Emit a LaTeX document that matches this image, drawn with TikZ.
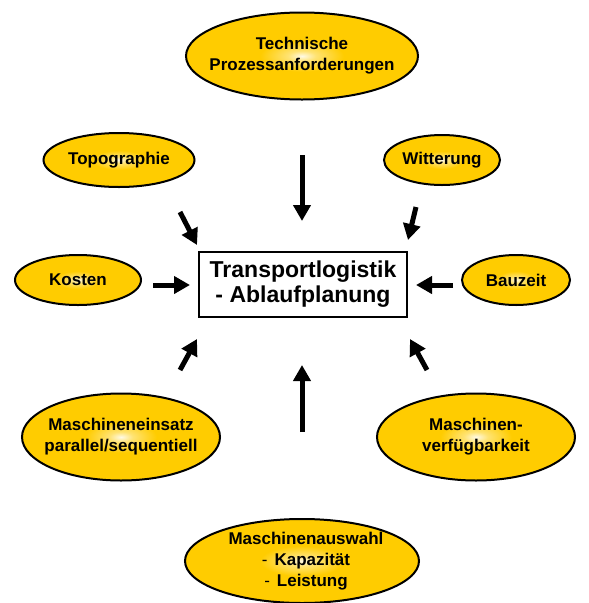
\documentclass[tikz,border=0pt]{standalone}
\usepackage{fontspec}
\setmainfont{Liberation Sans}
\usetikzlibrary{shapes.geometric,arrows.meta}
\definecolor{gold}{RGB}{255,204,0}
\pgfdeclareradialshading{glow}{\pgfpoint{0bp}{0bp}}{%
  color(0bp)=(white!90!gold); color(3bp)=(white!45!gold); color(9bp)=(gold); color(50bp)=(gold)}
\tikzset{
  oval/.style={ellipse, draw=black, line width=2pt, shading=glow, inner sep=0pt},
  ovaltext/.style={inner sep=0pt, align=center, font=\fontsize{17}{21}\selectfont\bfseries},
  mainbox/.style={draw=black, line width=2.5pt, fill=white, inner sep=0pt,
    minimum width=208pt, minimum height=65pt, align=center,
    font=\fontsize{23}{25}\selectfont\bfseries},
  bigarrow/.style={line width=5pt, -{Triangle[width=17pt,length=16pt]}}
}
\begin{document}
\begin{tikzpicture}[x=1pt,y=-1pt]
\useasboundingbox (0,0) rectangle (589,603);
\node[mainbox] (box) at (303,284.5) {Transportlogistik\\- Ablaufplanung};
\node[oval, minimum width=232pt, minimum height=87pt] (tech) at (302,56) {};
\node[ovaltext] (techT) at (tech) {Technische\\Prozessanforderungen};
\node[oval, minimum width=151pt, minimum height=54pt] (topo) at (119,160) {};
\node[ovaltext] (topoT) at (topo) {Topographie};
\node[oval, minimum width=116pt, minimum height=50pt] (witt) at (442,160) {};
\node[ovaltext] (wittT) at (witt) {Witterung};
\node[oval, minimum width=126pt, minimum height=50pt] (kost) at (78,280) {};
\node[ovaltext] (kostT) at (kost) {Kosten};
\node[oval, minimum width=108pt, minimum height=50pt] (bau) at (516,280) {};
\node[ovaltext] (bauT) at (bau) {Bauzeit};
\node[oval, minimum width=198pt, minimum height=87pt] (einsatz) at (121,437) {};
\node[ovaltext] (einsatzT) at (einsatz) {Maschineneinsatz\\parallel/sequentiell};
\node[oval, minimum width=198pt, minimum height=87pt] (verf) at (476,437) {};
\node[ovaltext] (verfT) at (verf) {Maschinen-\\verfügbarkeit};
\node[oval, minimum width=234pt, minimum height=84pt] (wahl) at (302,561) {};
\node[ovaltext] (wahlT) at ([xshift=4pt]wahl.center)
  {Maschinenauswahl\\{\mdseries -}\hspace{7pt}Kapazität\\{\mdseries -}\hspace{7pt}Leistung};
% arrow end points
\coordinate (t1) at (302,155); \coordinate (t2) at (302,221);
\coordinate (p1) at (180,212); \coordinate (p2) at (197,245);
\coordinate (w1) at (416,207); \coordinate (w2) at (408,240);
\coordinate (k1) at (153,285); \coordinate (k2) at (190,285);
\coordinate (b1) at (453,285); \coordinate (b2) at (416,285);
\coordinate (e1) at (180,370); \coordinate (e2) at (197,339);
\coordinate (v1) at (427,370); \coordinate (v2) at (410,339);
\coordinate (m1) at (302,432); \coordinate (m2) at (302,365);
\draw[bigarrow] (t1) -- (t2);
\draw[bigarrow] (p1) -- (p2);
\draw[bigarrow] (w1) -- (w2);
\draw[bigarrow] (k1) -- (k2);
\draw[bigarrow] (b1) -- (b2);
\draw[bigarrow] (e1) -- (e2);
\draw[bigarrow] (v1) -- (v2);
\draw[bigarrow] (m1) -- (m2);
\end{tikzpicture}
\end{document}
